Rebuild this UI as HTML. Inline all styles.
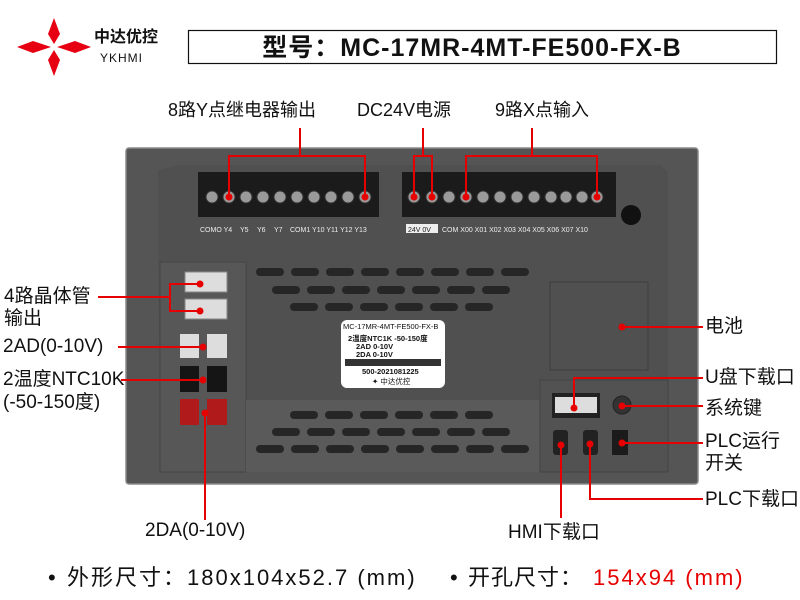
<!DOCTYPE html>
<html><head><meta charset="utf-8"><style>
html,body{margin:0;padding:0;background:#fff;}
body{width:800px;height:600px;overflow:hidden;position:relative;font-family:"Liberation Sans","Noto Sans CJK SC",sans-serif;}
.t{position:absolute;color:#111;font-size:19px;line-height:20px;white-space:nowrap;font-family:"Liberation Sans","Noto Sans CJK SC",sans-serif;}
</style></head><body>
<svg width="800" height="600" style="position:absolute;left:0;top:0">
<g fill="#e60012">
<polygon points="54,18 60,34 54,44 48,34"/>
<polygon points="54,50 60,60 54,76 48,60"/>
<polygon points="17,47 33,41 51,47 33,53"/>
<polygon points="57,47 75,41 91,47 75,53"/>
</g>
<rect x="188.5" y="30.5" width="588" height="33" fill="none" stroke="#111" stroke-width="1.2"/>
<rect x="126" y="148" width="572" height="336" rx="3" fill="#555" stroke="#8a8a8a" stroke-width="1.5"/>
<path d="M158 170 L180 165 L660 165 L668 172 L668 470 L160 470 Z" fill="#505050"/>
<rect x="160" y="262" width="86" height="210" fill="#575757" stroke="#454545"/>
<rect x="246" y="400" width="296" height="72" fill="#5a5a5a"/>
<rect x="540" y="380" width="128" height="92" fill="#525252" stroke="#444"/>
<rect x="198" y="172" width="181" height="45" fill="#1b1b1b"/>
<rect x="402" y="172" width="214" height="45" fill="#1b1b1b"/>
<g fill="#9a9a9a" stroke="#333">
<circle cx="212" cy="197" r="6"/><circle cx="229" cy="197" r="6"/><circle cx="246" cy="197" r="6"/><circle cx="263" cy="197" r="6"/><circle cx="280" cy="197" r="6"/><circle cx="297" cy="197" r="6"/><circle cx="314" cy="197" r="6"/><circle cx="331" cy="197" r="6"/><circle cx="348" cy="197" r="6"/><circle cx="365" cy="197" r="6"/>
<circle cx="414" cy="197" r="6"/><circle cx="432" cy="197" r="6"/><circle cx="449" cy="197" r="6"/><circle cx="466" cy="197" r="6"/><circle cx="483" cy="197" r="6"/><circle cx="500" cy="197" r="6"/><circle cx="517" cy="197" r="6"/><circle cx="534" cy="197" r="6"/><circle cx="551" cy="197" r="6"/><circle cx="566" cy="197" r="6"/><circle cx="582" cy="197" r="6"/><circle cx="597" cy="197" r="6"/>
</g>
<rect x="406" y="224" width="32" height="9" fill="#eee"/>
<g font-family="Liberation Sans" font-size="7" fill="#eee">
<text x="200" y="232">COMO Y4</text><text x="240" y="232">Y5</text><text x="257" y="232">Y6</text><text x="274" y="232">Y7</text><text x="290" y="232">COM1 Y10  Y11 Y12 Y13</text>
<text x="408" y="232" fill="#222">24V  0V</text><text x="442" y="232">COM X00 X01 X02 X03 X04 X05 X06 X07 X10</text>
</g>
<circle cx="631" cy="215" r="10" fill="#111"/>
<g fill="#262626">
<rect x="256" y="268" width="28" height="8" rx="4"/><rect x="291" y="268" width="28" height="8" rx="4"/><rect x="326" y="268" width="28" height="8" rx="4"/><rect x="361" y="268" width="28" height="8" rx="4"/><rect x="396" y="268" width="28" height="8" rx="4"/><rect x="431" y="268" width="28" height="8" rx="4"/><rect x="466" y="268" width="28" height="8" rx="4"/><rect x="501" y="268" width="28" height="8" rx="4"/>
<rect x="272" y="286" width="28" height="8" rx="4"/><rect x="307" y="286" width="28" height="8" rx="4"/><rect x="342" y="286" width="28" height="8" rx="4"/><rect x="377" y="286" width="28" height="8" rx="4"/><rect x="412" y="286" width="28" height="8" rx="4"/><rect x="447" y="286" width="28" height="8" rx="4"/><rect x="482" y="286" width="28" height="8" rx="4"/>
<rect x="290" y="303" width="28" height="8" rx="4"/><rect x="325" y="303" width="28" height="8" rx="4"/><rect x="360" y="303" width="28" height="8" rx="4"/><rect x="395" y="303" width="28" height="8" rx="4"/><rect x="430" y="303" width="28" height="8" rx="4"/><rect x="465" y="303" width="28" height="8" rx="4"/>
<rect x="290" y="411" width="28" height="8" rx="4"/><rect x="325" y="411" width="28" height="8" rx="4"/><rect x="360" y="411" width="28" height="8" rx="4"/><rect x="395" y="411" width="28" height="8" rx="4"/><rect x="430" y="411" width="28" height="8" rx="4"/><rect x="465" y="411" width="28" height="8" rx="4"/>
<rect x="272" y="428" width="28" height="8" rx="4"/><rect x="307" y="428" width="28" height="8" rx="4"/><rect x="342" y="428" width="28" height="8" rx="4"/><rect x="377" y="428" width="28" height="8" rx="4"/><rect x="412" y="428" width="28" height="8" rx="4"/><rect x="447" y="428" width="28" height="8" rx="4"/><rect x="482" y="428" width="28" height="8" rx="4"/>
<rect x="256" y="445" width="28" height="8" rx="4"/><rect x="291" y="445" width="28" height="8" rx="4"/><rect x="326" y="445" width="28" height="8" rx="4"/><rect x="361" y="445" width="28" height="8" rx="4"/><rect x="396" y="445" width="28" height="8" rx="4"/><rect x="431" y="445" width="28" height="8" rx="4"/><rect x="466" y="445" width="28" height="8" rx="4"/><rect x="501" y="445" width="28" height="8" rx="4"/>
</g>
<rect x="341" y="320" width="104" height="68" rx="6" fill="#fff"/>
<g font-family="Liberation Sans,Noto Sans CJK SC" font-size="7.5" fill="#111">
<text x="343" y="329">MC-17MR-4MT-FE500-FX-B</text>
<text x="348" y="341" font-weight="bold">2温度NTC1K   -50-150度</text>
<text x="356" y="349" font-weight="bold">2AD          0-10V</text>
<text x="356" y="357" font-weight="bold">2DA          0-10V</text>
<text x="362" y="374" font-weight="bold">500-2021081225</text>
<text x="372" y="384">✦ 中达优控</text>
</g>
<rect x="345" y="359" width="96" height="7" fill="#333"/>
<rect x="550" y="282" width="98" height="88" fill="#505050" stroke="#3e3e3e"/>
<rect x="552" y="393" width="48" height="25" fill="#222"/><rect x="555" y="397" width="42" height="16" fill="#ddd"/>
<circle cx="622" cy="405" r="9" fill="#333" stroke="#222"/>
<rect x="553" y="430" width="15" height="25" rx="3" fill="#222"/><rect x="583" y="430" width="15" height="25" rx="3" fill="#222"/>
<rect x="612" y="430" width="16" height="25" fill="#1b1b1b"/>
<rect x="185" y="272" width="42" height="20" fill="#ddd" stroke="#888"/><rect x="185" y="299" width="42" height="20" fill="#ddd" stroke="#888"/>
<rect x="180" y="334" width="19" height="24" fill="#ddd"/><rect x="207" y="334" width="20" height="24" fill="#ddd"/>
<rect x="180" y="366" width="19" height="26" fill="#151515"/><rect x="207" y="366" width="20" height="26" fill="#151515"/>
<rect x="180" y="399" width="19" height="26" fill="#b01a1a"/><rect x="207" y="399" width="20" height="26" fill="#b01a1a"/>
<g fill="none" stroke="#e60000" stroke-width="2">
<polyline points="300,128 300,156 229,156 229,197"/><polyline points="300,156 365,156 365,197"/>
<polyline points="423,128 423,156 414,156 414,197"/><polyline points="423,156 432,156 432,197"/>
<polyline points="532,128 532,156 466,156 466,197"/><polyline points="532,156 597,156 597,197"/>
<polyline points="98,297 170,297"/><polyline points="200,284 170,284 170,311 200,311"/>
<line x1="118" y1="347" x2="203" y2="347"/>
<line x1="121" y1="380" x2="203" y2="380"/>
<line x1="205" y1="413" x2="205" y2="520"/>
<line x1="622" y1="327" x2="703" y2="327"/>
<polyline points="574,408 574,378 703,378"/>
<line x1="622" y1="406" x2="703" y2="406"/>
<line x1="622" y1="443" x2="703" y2="443"/>
<polyline points="590,444 590,499 703,499"/>
<line x1="561" y1="445" x2="561" y2="518"/>
</g>
<g fill="#e60000">
<circle cx="229" cy="197" r="3.5"/><circle cx="365" cy="197" r="3.5"/><circle cx="414" cy="197" r="3.5"/><circle cx="432" cy="197" r="3.5"/><circle cx="466" cy="197" r="3.5"/><circle cx="597" cy="197" r="3.5"/>
<circle cx="200" cy="284" r="3.5"/><circle cx="200" cy="311" r="3.5"/><circle cx="203" cy="347" r="3.5"/><circle cx="203" cy="380" r="3.5"/><circle cx="205" cy="413" r="3.5"/>
<circle cx="622" cy="327" r="3.5"/><circle cx="574" cy="408" r="3.5"/><circle cx="622" cy="406" r="3.5"/><circle cx="622" cy="443" r="3.5"/><circle cx="590" cy="444" r="3.5"/><circle cx="561" cy="445" r="3.5"/>
</g>
</svg>
<div class="t" style="left:94px;top:28px;font-size:16px;font-weight:bold;">中达优控</div>
<div class="t" style="left:100px;top:48px;font-size:12px;letter-spacing:1px;">YKHMI</div>
<div class="t" style="left:178px;top:34px;width:588px;text-align:center;font-size:25px;line-height:28px;font-weight:bold;letter-spacing:1px;">型号：MC-17MR-4MT-FE500-FX-B</div>
<div class="t" style="left:168px;top:100px;font-size:18px;">8路Y点继电器输出</div>
<div class="t" style="left:357px;top:100px;font-size:18px;">DC24V电源</div>
<div class="t" style="left:495px;top:100px;font-size:18px;">9路X点输入</div>
<div class="t" style="left:4px;top:287px;">4路晶体管</div>
<div class="t" style="left:4px;top:309px;">输出</div>
<div class="t" style="left:3px;top:337px;">2AD(0-10V)</div>
<div class="t" style="left:3px;top:370px;">2温度NTC10K</div>
<div class="t" style="left:3px;top:393px;">(-50-150度)</div>
<div class="t" style="left:145px;top:521px;">2DA(0-10V)</div>
<div class="t" style="left:508px;top:523px;">HMI下载口</div>
<div class="t" style="left:705px;top:317px;">电池</div>
<div class="t" style="left:705px;top:368px;">U盘下载口</div>
<div class="t" style="left:705px;top:399px;">系统键</div>
<div class="t" style="left:705px;top:432px;">PLC运行</div>
<div class="t" style="left:705px;top:454px;">开关</div>
<div class="t" style="left:705px;top:490px;">PLC下载口</div>
<div class="t" style="left:48px;top:566px;font-size:22px;line-height:24px;">•</div>
<div class="t" style="left:67px;top:566px;font-size:22px;line-height:24px;letter-spacing:2px;">外形尺寸：180x104x52.7 (mm)</div>
<div class="t" style="left:450px;top:566px;font-size:22px;line-height:24px;">•</div>
<div class="t" style="left:468px;top:566px;font-size:22px;line-height:24px;letter-spacing:1px;">开孔尺寸：</div>
<div class="t" style="left:593px;top:566px;font-size:22px;line-height:24px;letter-spacing:2px;color:#e60000;">154x94 (mm)</div>
</body></html>
